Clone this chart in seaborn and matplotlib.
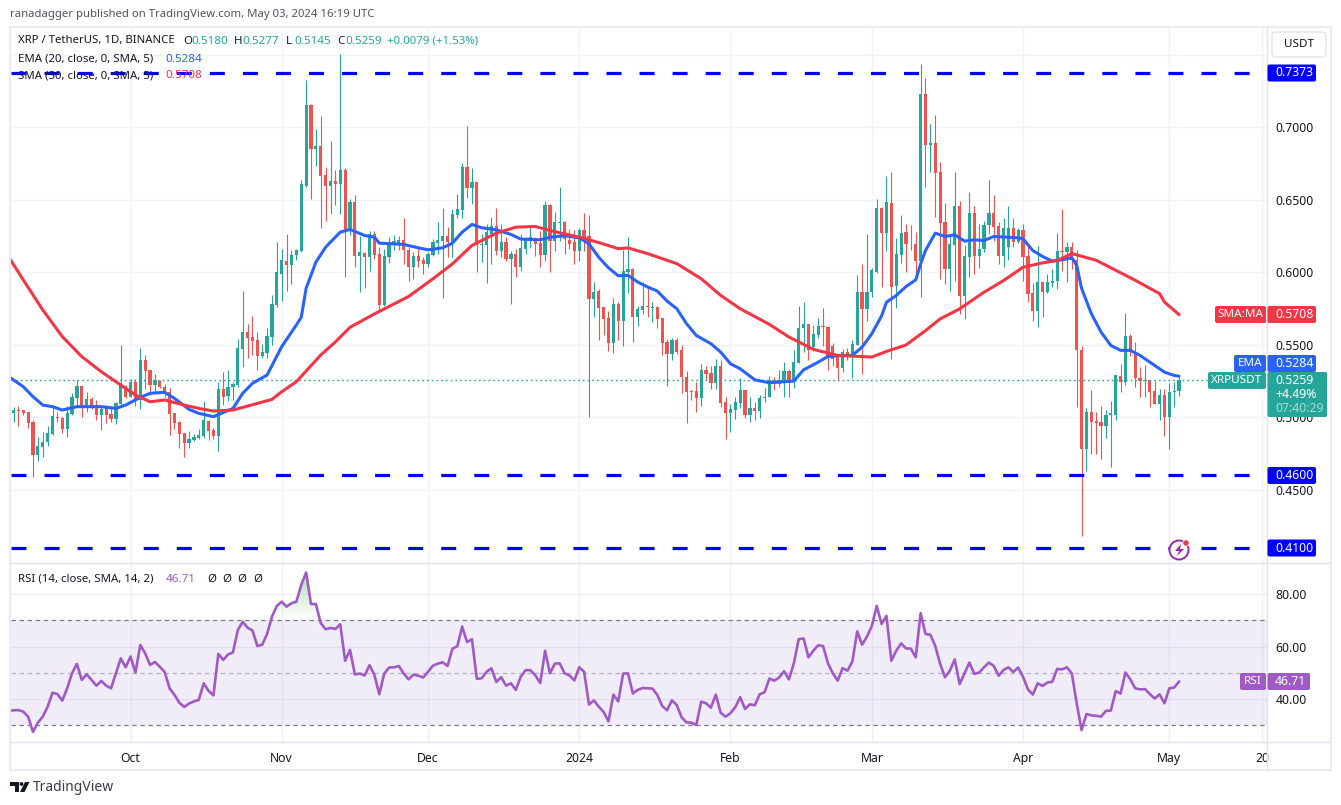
import numpy as np
import matplotlib
matplotlib.use("Agg")
import matplotlib.pyplot as plt
from matplotlib.patches import FancyBboxPatch, Rectangle, Circle, Polygon
from matplotlib.lines import Line2D
from matplotlib.transforms import IdentityTransform
import seaborn as sns

opens = [
 .5032,.5051,.5051,.5037,.4968,.4742,.4798,.4830,.4885,.5002,
 .4995,.4922,.5023,.5136,.5216,.5064,.5124,.5083,.5018,.5074,
 .5023,.4991,.5092,.5212,.5143,.5244,.5120,.5396,.5327,.5225,
 .5253,.5212,.5175,.5028,.4968,.4890,.4825,.4844,.4860,.4874,
 .4975,.4913,.4871,.5193,.5147,.5207,.5225,.5472,.5589,.5554,
 .5531,.5423,.5446,.5557,.5775,.5986,.6078,.6048,.6117,.6147,
 .6598,.7151,.6850,.6868,.6668,.6592,.6627,.6606,.6702,.6293,
 .6482,.6109,.6132,.6104,.6261,.6123,.5778,.6104,.6203,.6201,
 .6224,.6155,.6035,.6109,.6088,.6056,.6118,.6201,.6219,.6247,
 .6201,.6394,.6431,.6725,.6581,.6620,.6185,.6187,.6265,.6316,
 .6150,.6206,.6095,.6123,.6040,.6164,.6229,.6238,.6201,.6118,
 .6461,.6215,.6339,.6344,.6226,.6208,.6150,.6295,.6248,.5816,
 .5869,.5759,.5683,.5512,.5779,.5664,.6000,.6021,.5692,.5738,
 .5765,.5754,.5759,.5683,.5517,.5434,.5531,.5462,.5278,.5181,
 .5181,.5131,.5324,.5305,.5236,.5351,.5103,.5029,.5048,.5098,
 .5186,.5020,.5066,.5043,.5135,.5140,.5255,.5232,.5255,.5317,
 .5246,.5374,.5614,.5641,.5485,.5568,.5627,.5623,.5489,.5425,
 .5338,.5448,.5416,.5496,.5864,.5747,.5864,.6001,.6440,.6270,
 .6475,.5909,.6118,.6275,.6196,.6196,.6077,.7231,.6875,.6893,
 .6689,.6344,.6026,.6185,.6454,.5840,.6104,.6406,.6109,.6164,
 .6323,.6406,.6316,.6109,.6173,.6305,.6206,.6295,.6109,.5854,
 .5736,.5936,.5861,.5925,.5939,.6144,.6137,.6171,.6087,.5466,
 .4781,.5034,.4972,.4965,.4944,.5020,.5020,.5287,.5241,.5558,
 .5450,.5273,.5250,.5257,.5179,.5094,.5151,.5002,.5172,.5180]
highs = [
 .5074,.5078,.5051,.5037,.4982,.4862,.4901,.4940,.5083,.5039,
 .5002,.5078,.5170,.5258,.5216,.5175,.5138,.5120,.5074,.5083,
 .5078,.5106,.5497,.5221,.5262,.5262,.5478,.5428,.5327,.5299,
 .5258,.5230,.5200,.5028,.4972,.4890,.4906,.4885,.4922,.5110,
 .4982,.4926,.5244,.5313,.5327,.5244,.5538,.5872,.5644,.5699,
 .5591,.5506,.5616,.5846,.6212,.6163,.6262,.6152,.6163,.6635,
 .7328,.7158,.6990,.7075,.6725,.6903,.6707,.7505,.6721,.6502,
 .6530,.6247,.6139,.6286,.6284,.6173,.6162,.6242,.6259,.6247,
 .6376,.6173,.6137,.6173,.6104,.6141,.6231,.6344,.6440,.6309,
 .6438,.6541,.6755,.7006,.6716,.6624,.6261,.6334,.6380,.6440,
 .6330,.6242,.6150,.6162,.6265,.6242,.6316,.6242,.6288,.6491,
 .6468,.6417,.6587,.6353,.6300,.6293,.6307,.6409,.6393,.5936,
 .5883,.5761,.5731,.5821,.5793,.6152,.6242,.6032,.5770,.5931,
 .5894,.5798,.5765,.5687,.5540,.5549,.5545,.5496,.5317,.5190,
 .5241,.5365,.5351,.5351,.5402,.5393,.5144,.5089,.5140,.5269,
 .5190,.5144,.5105,.5151,.5204,.5282,.5278,.5328,.5379,.5333,
 .5462,.5770,.5793,.5646,.5637,.5683,.5752,.5632,.5511,.5439,
 .5471,.5476,.5531,.5979,.6060,.6261,.6031,.6502,.6449,.6661,
 .6689,.6238,.6392,.6334,.6323,.6279,.7438,.7337,.7024,.7082,
 .6758,.6479,.6249,.6689,.6489,.6185,.6551,.6454,.6330,.6357,
 .6633,.6530,.6348,.6376,.6454,.6371,.6302,.6334,.6185,.5927,
 .6178,.5936,.5985,.6024,.6268,.6433,.6206,.6206,.6152,.5489,
 .5066,.5186,.5036,.5082,.5052,.5112,.5294,.5365,.5719,.5577,
 .5517,.5347,.5358,.5259,.5250,.5197,.5197,.5236,.5243,.5277]
lows = [
 .4970,.4943,.5018,.4929,.4591,.4701,.4729,.4805,.4878,.4970,
 .4892,.4867,.5016,.5069,.5005,.5039,.5055,.4982,.4913,.4963,
 .4968,.4956,.5085,.5136,.5138,.5078,.5060,.5198,.5154,.5166,
 .5200,.5143,.4880,.4922,.4791,.4729,.4791,.4837,.4853,.4855,
 .4844,.4848,.4770,.5083,.5115,.5120,.5207,.5350,.5409,.5430,
 .5327,.5409,.5412,.5499,.5760,.5802,.5869,.5922,.6087,.6140,
 .6587,.6502,.6732,.6304,.6357,.6399,.6461,.6399,.5966,.6254,
 .6035,.5863,.5891,.6012,.6093,.5736,.5771,.6063,.6157,.6155,
 .6058,.5939,.5957,.6035,.5985,.6035,.6111,.6127,.5822,.6104,
 .6104,.6371,.6371,.6509,.6470,.6001,.6068,.5925,.6054,.6116,
 .6104,.6077,.5780,.5971,.6012,.6127,.6169,.6109,.6035,.6081,
 .6001,.6146,.6215,.6123,.6160,.6054,.6081,.6150,.5002,.5692,
 .5531,.5565,.5457,.5443,.5531,.5492,.5857,.5517,.5630,.5715,
 .5692,.5660,.5616,.5430,.5216,.5393,.5439,.5167,.4960,.5117,
 .5034,.5082,.5255,.5197,.5195,.5071,.4850,.4898,.4988,.5066,
 .4997,.4967,.4979,.4993,.5105,.5140,.5190,.5213,.5144,.5140,
 .5204,.5374,.5450,.5393,.5457,.5545,.5489,.5324,.5356,.5255,
 .5312,.5393,.5274,.5496,.5296,.5667,.5828,.5994,.5902,.6150,
 .5405,.5753,.6063,.6001,.6157,.5966,.5828,.6587,.6689,.6380,
 .5957,.5916,.5868,.5943,.5713,.5681,.5966,.5985,.6031,.6137,
 .6261,.6219,.6054,.6035,.6086,.6173,.6203,.5943,.5792,.5663,
 .5621,.5690,.5856,.5897,.5884,.6012,.5930,.6024,.5071,.4185,
 .4634,.4749,.4749,.4712,.4859,.4661,.4979,.5174,.5220,.5423,
 .5209,.5140,.5144,.5075,.5089,.4983,.4875,.4781,.5071,.5145]
closes = [
 .5051,.5046,.5032,.4963,.4742,.4802,.4830,.4890,.5009,.4998,
 .4922,.5028,.5138,.5216,.5064,.5124,.5074,.5018,.5060,.5018,
 .4991,.5097,.5221,.5143,.5242,.5124,.5396,.5322,.5225,.5258,
 .5212,.5161,.5023,.4963,.4885,.4825,.4851,.4862,.4878,.4982,
 .4908,.4871,.5193,.5143,.5207,.5230,.5476,.5589,.5550,.5527,
 .5423,.5451,.5561,.5782,.6000,.6087,.6048,.6122,.6152,.6607,
 .7152,.6850,.6868,.6661,.6592,.6627,.6606,.6702,.6293,.6482,
 .6109,.6137,.6104,.6261,.6118,.5778,.6109,.6210,.6213,.6224,
 .6155,.6035,.6109,.6081,.6056,.6123,.6206,.6224,.6247,.6206,
 .6399,.6433,.6725,.6581,.6620,.6185,.6192,.6275,.6316,.6150,
 .6206,.6095,.6123,.6040,.6169,.6238,.6242,.6192,.6116,.6461,
 .6219,.6344,.6344,.6229,.6196,.6150,.6295,.6239,.5816,.5867,
 .5754,.5678,.5512,.5779,.5664,.6007,.6021,.5692,.5745,.5765,
 .5761,.5759,.5678,.5512,.5434,.5531,.5453,.5278,.5172,.5177,
 .5131,.5324,.5296,.5236,.5351,.5098,.5029,.5057,.5103,.5186,
 .5020,.5066,.5043,.5135,.5144,.5259,.5232,.5259,.5317,.5255,
 .5379,.5618,.5641,.5462,.5572,.5627,.5623,.5420,.5402,.5338,
 .5448,.5416,.5503,.5864,.5747,.5865,.6014,.6440,.6270,.6482,
 .5902,.6123,.6268,.6192,.6192,.6077,.7231,.6875,.6893,.6684,
 .6339,.6026,.6192,.6454,.5840,.6109,.6406,.6109,.6164,.6323,
 .6406,.6311,.6109,.6305,.6305,.6206,.6295,.6104,.5851,.5736,
 .5936,.5863,.5930,.5943,.6150,.6139,.6171,.6086,.5466,.4781,
 .5034,.4967,.4963,.4944,.5020,.5029,.5289,.5243,.5558,.5450,
 .5271,.5248,.5259,.5174,.5094,.5151,.5002,.5174,.5179,.5259]

ema_days = [-1,2,4,6,8,10,13,18,21,23,26,28,31,33,36,38,41,45,47,49,52,55,58,59,60,62,64,65,67,69,72,74,75,78,80,83,85,88,90,92,94,96,99,102,104,108,110,113,116,118,120,122,124,126,128,130,132,134,136,138,140,143,145,147,149,152,155,158,160,162,165,167,170,172,174,176,178,179,181,183,185,186,187,189,191,193,195,197,199,201,204,206,207,209,211,213,215,217,218,219,221,223,225,227,229,231,233,236,238,239]
ema_vals = [.5281,.5212,.5143,.5085,.5074,.5051,.5074,.5074,.5062,.5085,.5138,.5166,.5173,.5131,.5055,.5028,.5005,.5062,.5166,.5235,.5292,.5488,.5637,.5690,.5890,.6070,.6173,.6208,.6277,.6295,.6254,.6242,.6201,.6196,.6192,.6169,.6155,.6169,.6201,.6277,.6330,.6307,.6293,.6261,.6229,.6224,.6242,.6252,.6238,.6196,.6104,.6031,.5976,.5979,.5933,.5899,.5871,.5802,.5749,.5646,.5565,.5508,.5450,.5370,.5335,.5259,.5239,.5246,.5250,.5328,.5381,.5420,.5427,.5427,.5485,.5577,.5700,.5794,.5840,.5902,.5948,.6058,.6150,.6270,.6247,.6258,.6215,.6224,.6219,.6247,.6242,.6238,.6231,.6150,.6109,.6077,.6086,.6100,.6048,.5890,.5715,.5588,.5496,.5462,.5462,.5427,.5381,.5312,.5289,.5284]
sma_days = [-1,2,6,10,14,18,22,25,28,31,35,38,41,45,48,53,55,58,63,66,69,74,81,86,90,94,99,103,107,110,116,120,124,126,130,136,141,145,149,155,159,164,169,176,179,183,187,190,194,199,203,207,211,214,217,222,226,230,235,236,239]
sma_vals = [.6106,.5948,.5741,.5557,.5419,.5315,.5223,.5154,.5108,.5120,.5085,.5062,.5044,.5051,.5078,.5124,.5177,.5246,.5430,.5520,.5621,.5713,.5833,.5955,.6058,.6185,.6270,.6311,.6316,.6288,.6242,.6205,.6163,.6168,.6129,.6060,.5956,.5841,.5749,.5641,.5554,.5469,.5427,.5416,.5455,.5499,.5598,.5679,.5748,.5863,.5943,.6035,.6065,.6081,.6129,.6083,.6014,.5945,.5853,.5795,.5708]
rsi_days = list(range(-1, 240))
rsi_vals = [35.6,
 35.7,35.8,35.2,33.3,27.5,31.0,33.3,37.1,42.4,41.9,
 39.4,44.1,49.8,53.4,47.3,49.4,47.3,45.1,46.9,45.1,
 44.1,49.8,55.5,52.1,56.2,50.1,60.6,57.4,53.0,54.1,
 52.3,50.3,44.1,41.6,38.6,37.0,38.3,39.1,39.7,46.0,
 43.1,41.4,57.2,54.9,57.0,57.8,66.3,69.4,67.2,66.1,
 60.2,60.7,64.8,71.4,75.5,77.1,75.2,76.5,77.1,83.5,
 88.2,76.2,76.2,68.9,66.6,67.1,66.7,68.5,54.6,58.7,
 49.4,49.7,49.0,52.9,49.2,41.8,49.6,52.0,52.1,52.6,
 49.8,47.5,49.3,48.9,48.2,50.4,52.7,53.5,54.0,52.6,
 59.2,60.1,67.6,61.7,62.8,47.7,47.9,50.4,51.7,46.5,
 48.3,45.1,46.0,43.5,48.5,51.0,51.0,49.0,46.1,58.4,
 49.8,53.5,53.6,49.8,49.0,47.1,52.1,50.4,37.9,39.5,
 37.1,35.1,31.5,41.7,39.1,49.7,49.8,42.1,43.5,44.2,
 44.1,44.0,41.6,37.4,35.7,39.5,37.7,33.0,31.1,31.0,
 30.1,39.0,38.4,36.7,41.7,34.8,33.3,34.6,36.9,40.7,
 36.2,38.0,37.6,41.8,42.6,47.8,47.0,48.2,50.6,47.5,
 53.6,62.8,63.1,55.9,58.4,60.5,60.2,53.6,49.8,47.0,
 51.8,50.8,54.3,65.8,60.7,63.8,67.8,75.5,68.6,71.7,
 54.6,58.4,61.2,59.3,59.2,55.9,72.7,64.8,64.5,60.2,
 53.4,48.3,50.8,55.1,45.7,49.8,53.9,49.6,50.1,52.1,
 53.9,52.6,48.9,51.1,52.1,50.3,52.0,48.5,43.7,41.7,
 46.0,45.0,46.3,46.6,51.5,51.3,52.1,49.8,38.4,28.2,
 34.3,33.8,33.6,33.3,35.5,35.6,43.0,42.1,50.1,47.5,
 44.1,43.7,43.8,41.9,40.2,41.8,38.4,44.1,44.4,46.71]
level_prices = [0.7373, 0.46, 0.41]
price_ticks = [0.45, 0.50, 0.55, 0.60, 0.65, 0.70, 0.75]
price_tick_labels = ["0.4500", "0.5000", "0.5500", "0.6000", "0.6500", "0.7000", ""]
rsi_ticks = [40, 60, 80]
rsi_tick_labels = ["40.00", "60.00", "80.00"]
date_days = [24, 55, 85, 116, 147, 176, 207, 237, 256]
date_labels = ["Oct", "Nov", "Dec", "2024", "Feb", "Mar", "Apr", "May", "20"]

W, H = 1341, 805
GREEN, RED, BLUE, SMA_RED, PURPLE = "#26a69a", "#ef5350", "#2962ff", "#f23645", "#a05ac6"
DARK, GRID, EDGE = "#131722", "#f0f3fa", "#e0e3eb"

sns.set_theme(style="white", rc={"lines.scale_dashes": False, "axes.linewidth": 0})
plt.rcParams["font.family"] = ["Noto Sans", "DejaVu Sans"]

fig = plt.figure(figsize=(W / 100, H / 100), dpi=100, facecolor="white")
LEFT, RIGHT = 10.5, 1267
def ax_rect(top, bottom):
    return [LEFT / W, 1 - bottom / H, (RIGHT - LEFT) / W, (bottom - top) / H]
ax = fig.add_axes(ax_rect(28, 563))
rs = fig.add_axes(ax_rect(563, 742))
xlim = ((LEFT - 13.5) / 4.877, (RIGHT - 13.5) / 4.877)

# ---------- price pane
o, h, l, c = map(np.array, (opens, highs, lows, closes))
x = np.arange(len(c))
cols = np.where(c >= o, GREEN, RED)
ax.vlines(x, l, h, colors=cols, linewidth=0.8, zorder=2)
ax.bar(x, np.maximum(np.abs(c - o), 0.0006), bottom=np.minimum(o, c), width=0.66,
       color=cols, linewidth=0, zorder=3)
sns.lineplot(x=ema_days, y=ema_vals, ax=ax, color=BLUE, linewidth=2.2, estimator=None, errorbar=None, zorder=4)
sns.lineplot(x=sma_days, y=sma_vals, ax=ax, color=SMA_RED, linewidth=2.2, estimator=None, errorbar=None, zorder=4)
ax.axhline(closes[-1], color=GREEN, linewidth=1.0, linestyle=(0, (1.2, 2.2)), zorder=3)
for lv in level_prices:
    ax.add_line(Line2D([xlim[0], xlim[1]], [lv, lv], color="#0000ff", linewidth=2.3,
                       linestyle=(0, (10.8, 13.0)), dash_capstyle="butt", zorder=5))
ax.set_xlim(*xlim)
ax.set_ylim(0.41 + (548 - 563) / 1451, 0.41 + (548 - 28) / 1451)
ax.yaxis.tick_right()
ax.set_yticks(price_ticks, price_tick_labels, fontsize=8.8, color=DARK)
ax.set_xticks(date_days, [""] * len(date_days))
ax.tick_params(axis="both", length=0, pad=6)
ax.grid(True, color=GRID, linewidth=1.0)
ax.set_axisbelow(True)
for s in ax.spines.values():
    s.set_visible(False)

# ---------- RSI pane
rsi = np.array(rsi_vals)
rd = np.array(rsi_days, dtype=float)
rs.axhspan(30, 70, color="#7e57c2", alpha=0.1, linewidth=0, zorder=1)
rs.axhline(70, color="#787b86", linewidth=0.9, linestyle=(0, (3.2, 2.6)), zorder=2)
rs.axhline(50, color="#787b86", linewidth=0.9, linestyle=(0, (3.2, 2.6)), alpha=0.5, zorder=2)
rs.axhline(30, color="#787b86", linewidth=0.9, linestyle=(0, (3.2, 2.6)), zorder=2)
def gradient(base, extreme, rgb, maxa):
    bound = np.maximum(rsi, base) if extreme > base else np.minimum(rsi, base)
    poly = rs.fill_between(rd, base, bound, color="none", linewidth=0)
    img = np.zeros((64, 2, 4))
    img[..., :3] = rgb
    img[..., 3] = np.linspace(0, maxa, 64)[:, None]
    lo, hi = min(base, extreme), max(base, extreme)
    if extreme < base:
        img = img[::-1]
    im = rs.imshow(img, extent=[rd[0], rd[-1], lo, hi], origin="lower", aspect="auto", zorder=2.5)
    im.set_clip_path(poly.get_paths()[0], rs.transData)
gradient(70, 88.5, (0.30, 0.69, 0.31), 0.42)
gradient(30, 27, (0.95, 0.21, 0.27), 0.10)
sns.lineplot(x=rsi_days, y=rsi_vals, ax=rs, color=PURPLE, linewidth=1.9, estimator=None, errorbar=None, zorder=4)
rs.set_xlim(*xlim)
rs.set_ylim(30 - (742 - 725.3) / 2.625, 70 + (620.3 - 563) / 2.625)
rs.yaxis.tick_right()
rs.set_yticks(rsi_ticks, rsi_tick_labels, fontsize=8.8, color=DARK)
rs.set_xticks(date_days, date_labels, fontsize=8.8, color=DARK)
for t in rs.get_xticklabels():
    if t.get_text() == "2024":
        t.set_fontweight("bold")
rs.tick_params(axis="both", length=0, pad=6)
rs.tick_params(axis="x", pad=7)
rs.grid(True, color="#eeeff6", linewidth=1.0)
rs.set_axisbelow(True)
for s in rs.spines.values():
    s.set_visible(False)

# ---------- frame and overlays, in pixel coordinates
I = IdentityTransform()
def txt(px, py, s, color=DARK, size=8.8, ha="left", **kw):
    return fig.text(px / W, 1 - py / H, s, color=color, fontsize=size, ha=ha, va="center", zorder=20, **kw)
def box(x0, y0, x1, y1, fc, ec="none", r=2, z=6, lw=0):
    p = FancyBboxPatch((x0, H - y1), x1 - x0, y1 - y0, boxstyle=f"round,pad=0,rounding_size={r}",
                       fc=fc, ec=ec, lw=lw, transform=I, zorder=z)
    fig.add_artist(p)
def hl(x0, x1, y, color=EDGE, lw=1.0):
    fig.add_artist(Line2D([x0, x1], [H - y, H - y], color=color, lw=lw, transform=I, zorder=2))
def vl(xp, y0, y1, color=EDGE, lw=1.0):
    fig.add_artist(Line2D([xp, xp], [H - y0, H - y1], color=color, lw=lw, transform=I, zorder=2))

fig.add_artist(Rectangle((10, H - 770), 1320.5, 743.5, fc="none", ec="#ebebf2", lw=1.5, transform=I, zorder=2))
hl(10, 1330, 563); hl(10, 1330, 742); vl(RIGHT, 27, 770)

txt(10, 15, "ranadagger published on TradingView.com, May 03, 2024 16:19 UTC", color="#50535e", size=8.15)
txt(18, 41, "XRP / TetherUS, 1D, BINANCE", size=8.2)
for xp, lab, val in [(183, "O", "0.5180"), (234, "H", "0.5277"), (286, "L", "0.5145"), (337, "C", "0.5259")]:
    txt(xp, 41, lab, size=8.2)
    txt(xp + 8.5, 41, val, color=GREEN, size=8.4)
txt(387, 41, "+0.0079 (+1.53%)", color=GREEN, size=8.2)
txt(18, 59, "EMA (20, close, 0, SMA, 5)", size=8.2)
txt(165, 59, "0.5284", color=BLUE, size=8.4)
txt(18, 76, "SMA (50, close, 0, SMA, 5)", size=8.2)
txt(165, 76, "0.5708", color=SMA_RED, size=8.4)
txt(18, 579, "RSI (14, close, SMA, 14, 2)", size=8.2)
txt(166, 579, "46.71", color=PURPLE, size=8.4)
for xp in (207, 222, 237, 253):
    txt(xp, 579, "\u00d8", size=8.2)

# price tags
for yc, s in [(73, "0.7373"), (475.5, "0.4600"), (548, "0.4100")]:
    box(1267.5, yc - 8.5, 1316, yc + 8.5, "#0000ff")
    txt(1275, yc, s, color="white", size=8.8, fontweight="medium")
box(1215, 306, 1266, 323, SMA_RED); box(1267.5, 306, 1316, 323, SMA_RED)
txt(1240.5, 314.5, "SMA:MA", color="white", size=8.4, ha="center"); txt(1275, 314.5, "0.5708", color="white")
box(1234, 355, 1266, 372, BLUE); box(1267.5, 355, 1316, 372, BLUE)
txt(1250, 363.5, "EMA", color="white", size=8.4, ha="center"); txt(1275, 363.5, "0.5284", color="white")
box(1208, 372, 1266, 389, GREEN); box(1267.5, 372, 1327, 417, GREEN)
txt(1237, 380.5, "XRPUSDT", color="white", size=8.4, ha="center")
txt(1275, 380.5, "0.5259", color="white")
txt(1275, 394.5, "+4.49%", color="white")
txt(1275, 408.5, "07:40:29", color="#a8dcd6")
box(1240, 673, 1266, 690, PURPLE); box(1267.5, 673, 1310, 690, PURPLE)
txt(1253, 681.5, "RSI", color="white", size=8.4, ha="center"); txt(1275, 681.5, "46.71", color="white")

box(1272, 32, 1326, 57, "white", ec=EDGE, r=4, lw=1.0)
txt(1299, 44.5, "USDT", size=8.4, ha="center")

# lightning badge
fig.add_artist(Circle((1179, H - 550), 9.5, fc="white", ec="#9c27b0", lw=1.4, transform=I, zorder=6))
fig.add_artist(Polygon([(1181, H - 544), (1175, H - 551), (1179, H - 551), (1177, H - 556), (1184, H - 549), (1180, H - 549)],
                       closed=True, fc="#9c27b0", ec="none", transform=I, zorder=7))
fig.add_artist(Circle((1186, H - 543), 3.2, fc=SMA_RED, ec="white", lw=0.6, transform=I, zorder=7))

# TradingView mark and name
fig.add_artist(Polygon([(10, H - 782), (19, H - 782), (19, H - 792), (15, H - 792), (15, H - 786), (10, H - 786)],
                       closed=True, fc="#131722", ec="none", transform=I, zorder=6))
fig.add_artist(Circle((21.5, H - 784), 1.9, fc="#131722", ec="none", transform=I, zorder=6))
fig.add_artist(Polygon([(25, H - 782), (29.5, H - 782), (24.5, H - 792), (20, H - 792)],
                       closed=True, fc="#131722", ec="none", transform=I, zorder=6))
txt(33, 787.5, "TradingView", color="#3a3d47", size=10)

fig.savefig("out.png", dpi=100, facecolor="white")
